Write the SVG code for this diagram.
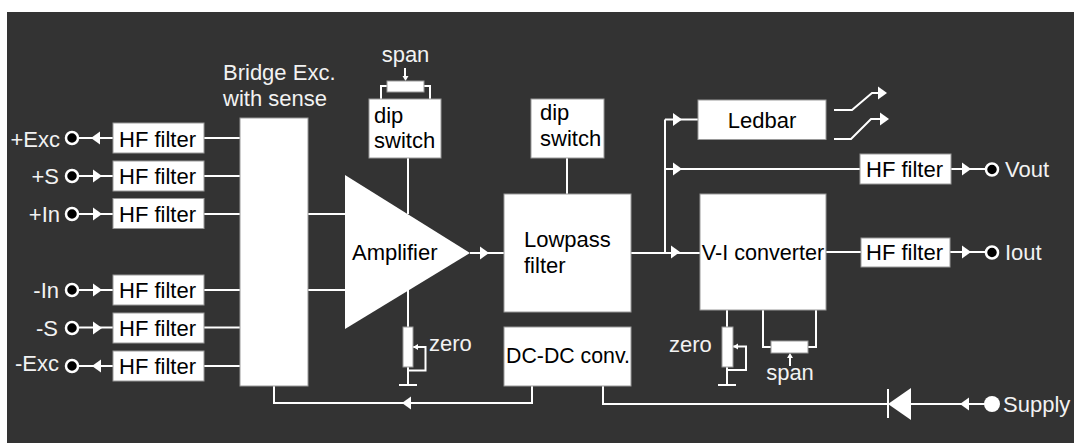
<svg xmlns="http://www.w3.org/2000/svg" xmlns:xlink="http://www.w3.org/1999/xlink" width="1074" height="443" viewBox="0 0 1074 443">
<style>
text{font-family:"Liberation Sans",Arial,sans-serif;font-size:22px;fill:#000}
.lb text,text.lb{fill:#f2f2f2}
.box{fill:#fff;stroke:#999;stroke-width:1}
.w{fill:#fff}
.c{fill:none;stroke:#fff;stroke-width:2}
.pin{fill:#000;stroke:#fff;stroke-width:2.5}
</style>
<defs>
<path id="ar" class="w" d="M-9-6.5L0 0L-9 6.500Z"/>
<path id="al" class="w" d="M9-6.500L0 0L9 6.500Z"/>
<path id="sm" class="w" d="M-3-5H3L0 0Z"/>
</defs>
<rect x="7" y="12" width="1067" height="431" fill="#333"/>

<g id="connectors">
<path class="c" d="M78 138H113M78 176H113M78 214H113M78 290H113M78 327.500H113M78 366H113"/>
<path class="c" d="M204 138H240M204 176H240M204 214H240M204 290H240M204 327.500H240M204 366H240"/>
<path class="c" d="M308 214H345M308 290H345"/>
<path class="c" d="M408 158V214M408 290V385M399 385H417M413 347H425.500V370.500H408"/>
<path class="c" d="M381 99V86H387M430 99V86H424M405 68V78M567 158V194"/>
<path class="c" d="M470 253H504M631 253H700M665 253V119.500M665 119.500H698M665 169H860M951 169H985M826 252H861M950 252H985"/>
<path class="c" d="M834 110H852L872 93H880M834 139H851L871 119H882"/>
<path class="c" d="M727 310V385M718 385H736M733 346.500H746V370H727M763 310V347H771M816 310V347H808M790 366V356"/>
<path class="c" d="M532 386V403H274V386M603 386V404H888M888 389V418M911 404H985"/>
<use xlink:href="#al" x="91" y="138"/>
<use xlink:href="#ar" x="102" y="176"/>
<use xlink:href="#ar" x="102" y="214"/>
<use xlink:href="#ar" x="102" y="290"/>
<use xlink:href="#ar" x="102" y="328"/>
<use xlink:href="#al" x="92" y="366"/>
<use xlink:href="#ar" x="489" y="253"/>
<use xlink:href="#ar" x="682" y="119.500"/>
<use xlink:href="#ar" x="682" y="169"/>
<use xlink:href="#ar" x="680" y="252"/>
<use xlink:href="#ar" x="971" y="169"/>
<use xlink:href="#ar" x="971" y="252"/>
<use xlink:href="#ar" x="887" y="93"/>
<use xlink:href="#ar" x="889" y="119"/>
<use xlink:href="#al" x="402" y="403"/>
<use xlink:href="#al" x="960" y="404"/>
<use xlink:href="#sm" x="405.500" y="81"/>
<use xlink:href="#sm" transform="translate(790 353) rotate(180)"/>
<path class="w" d="M413 347l5-3v6ZM733 346.500l5-3v6Z"/>
<path id="diode" class="w" d="M888 404L911 388V420Z"/>
</g>

<g id="hf1"><rect class="box" x="113" y="123" width="91" height="30"/><text x="119" y="147">HF filter</text></g>
<g id="hf2"><rect class="box" x="113" y="161" width="91" height="30"/><text x="119" y="184">HF filter</text></g>
<g id="hf3"><rect class="box" x="113" y="198.500" width="91" height="30"/><text x="119" y="222">HF filter</text></g>
<g id="hf4"><rect class="box" x="113" y="275" width="91" height="30"/><text x="119" y="298">HF filter</text></g>
<g id="hf5"><rect class="box" x="113" y="313" width="91" height="30"/><text x="119" y="336">HF filter</text></g>
<g id="hf6"><rect class="box" x="113" y="351" width="91" height="30"/><text x="119" y="374">HF filter</text></g>
<g id="bridge"><rect class="box" x="240" y="118" width="68" height="268"/><text class="lb" x="223" y="80">Bridge Exc.</text><text class="lb" x="223" y="106">with sense</text></g>
<g id="amp"><path class="w" d="M345 175L470 253L345 329Z"/><text x="352" y="260">Amplifier</text></g>
<g id="dip1"><rect class="box" x="369" y="99" width="72" height="59"/><text x="374" y="123">dip</text><text x="374" y="148">switch</text></g>
<g id="dip2"><rect class="box" x="531" y="99" width="73" height="59"/><text x="540" y="120">dip</text><text x="540" y="146">switch</text></g>
<g id="lowpass"><rect class="box" x="504" y="194" width="127" height="118"/><text x="524" y="247">Lowpass</text><text x="524" y="273">filter</text></g>
<g id="dcdc"><rect class="box" x="504" y="327" width="127" height="59"/><text x="568" y="363" text-anchor="middle" style="font-size:21.300px">DC-DC conv.</text></g>
<g id="ledbar"><rect class="box" x="698" y="100" width="128" height="39.500"/><text x="762" y="128" text-anchor="middle">Ledbar</text></g>
<g id="vi"><rect class="box" x="700" y="194" width="126" height="116"/><text x="763" y="260" text-anchor="middle" style="font-size:21.600px">V-I converter</text></g>
<g id="hf7"><rect class="box" x="860" y="154" width="91" height="30"/><text x="866" y="177">HF filter</text></g>
<g id="hf8"><rect class="box" x="861" y="238" width="89" height="29"/><text x="866" y="260">HF filter</text></g>

<g id="span1"><rect class="box" x="387" y="81" width="37" height="11"/><text class="lb" x="405.500" y="62" text-anchor="middle">span</text></g>
<g id="zero1"><rect class="box" x="403" y="327" width="10" height="40"/><text class="lb" x="429" y="351">zero</text></g>
<g id="zero2"><rect class="box" x="722" y="327" width="11" height="40"/><text class="lb" x="669" y="352">zero</text></g>
<g id="span2"><rect class="box" x="771" y="341" width="37" height="12"/><text class="lb" x="790" y="380" text-anchor="middle">span</text></g>

<g id="pins" class="lb">
<circle class="pin" cx="72" cy="138" r="6"/><text x="60" y="147" text-anchor="end">+Exc</text>
<circle class="pin" cx="72" cy="176" r="6"/><text x="59" y="184" text-anchor="end">+S</text>
<circle class="pin" cx="72" cy="214" r="6"/><text x="60" y="222" text-anchor="end">+In</text>
<circle class="pin" cx="72" cy="290" r="6"/><text x="59" y="298" text-anchor="end">-In</text>
<circle class="pin" cx="72" cy="328" r="6"/><text x="58" y="336" text-anchor="end">-S</text>
<circle class="pin" cx="72" cy="366" r="6"/><text x="59" y="371" text-anchor="end">-Exc</text>
<circle class="pin" cx="992" cy="169.500" r="6"/><text x="1005" y="177">Vout</text>
<circle class="pin" cx="992" cy="252.500" r="6"/><text x="1005" y="260">Iout</text>
<circle class="w" cx="992" cy="404" r="8"/><text x="1003" y="412">Supply</text>
</g>
</svg>
